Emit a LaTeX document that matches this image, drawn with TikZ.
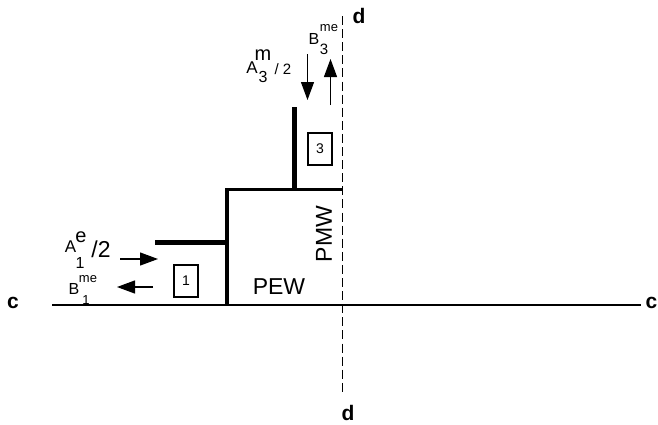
\documentclass[tikz,border=0pt]{standalone}
\usepackage{fontspec}
\setmainfont{Liberation Sans}
\usetikzlibrary{arrows.meta}

\begin{document}
\begin{tikzpicture}[x=1pt,y=-1pt,
    axis/.style = {line width=1.4pt},
    cut/.style = {line width=0.9pt, dash pattern=on 9pt off 4.1pt},
    wall/.style = {line width=3.6pt},
    thickwall/.style = {line width=5pt},
    load/.style = {line width=1.2pt, -{Triangle[length=18pt,width=13pt]}},
    sym/.style = {font=\fontsize{#1}{#1}\selectfont, inner sep=0pt},
    boldsym/.style = {font=\fontsize{#1}{#1}\selectfont\bfseries, inner sep=0pt},
    numbox/.style = {draw, line width=1.2pt, minimum width=24pt, minimum height=32pt, inner sep=0pt, font=\fontsize{14}{14}\selectfont}]
    \useasboundingbox (0,0) rectangle (658,424);
    % section lines
    \coordinate (cleft) at (52,305);
    \coordinate (cright) at (641,305);
    \coordinate (dtop) at (342.5,16);
    \coordinate (dbottom) at (342.5,392);
    \draw [axis] (cleft) -- (cright);
    \draw [cut] (dtop) -- (dbottom);
    \node [boldsym=21] (cl) at (13,303) {c};
    \node [boldsym=21] (cr) at (651.5,303) {c};
    \node [boldsym=21] (dt) at (359,16) {d};
    \node [boldsym=21] (db) at (348,413) {d};
    % walls
    \coordinate (corner) at (227,189.5);
    \coordinate (base) at (227,305);
    \coordinate (webtop) at (343,189.5);
    \coordinate (flangeleft) at (155,242.5);
    \coordinate (flangeright) at (227,242.5);
    \coordinate (stemtop) at (294.5,107);
    \coordinate (stembottom) at (294.5,189.5);
    \draw [wall] (base) -- (corner) -- (webtop);
    \draw [thickwall] (flangeleft) -- (flangeright);
    \draw [thickwall] (stemtop) -- (stembottom);
    \node [sym=23] (pew) at (279,287) {PEW};
    \node [sym=23,rotate=90] (pmw) at (324,234) {PMW};
    % numbered boxes
    \node [numbox] (box1) at (186,281) {1};
    \node [numbox] (box3) at (320,149) {3};
    % loads on the left
    \coordinate (a1start) at (120,259);
    \coordinate (a1end) at (158,259);
    \coordinate (b1start) at (153,287);
    \coordinate (b1end) at (117,287);
    \draw [load] (a1start) -- (a1end);
    \draw [load] (b1start) -- (b1end);
    \node [sym=17] (a1) at (70.5,247) {A};
    \node [sym=20] (a1e) at (81,237) {e};
    \node [sym=16] (a1i) at (80,263) {1};
    \node [sym=23] (a1h) at (101,249) {/2};
    \node [sym=16] (b1) at (74,289) {B};
    \node [sym=13] (b1me) at (88,279) {me};
    \node [sym=13] (b1i) at (86,300) {1};
    % loads on top
    \coordinate (a3start) at (307.5,54);
    \coordinate (a3end) at (307.5,100);
    \coordinate (b3start) at (330.5,105);
    \coordinate (b3end) at (330.5,59);
    \draw [load] (a3start) -- (a3end);
    \draw [load] (b3start) -- (b3end);
    \node [sym=17] (a3) at (252,68) {A};
    \node [sym=20] (a3m) at (263,55) {m};
    \node [sym=16] (a3i) at (263,77) {3};
    \node [sym=15] (a3h) at (283,69) {/ 2};
    \node [sym=16] (b3) at (314,39) {B};
    \node [sym=13] (b3me) at (329,28) {me};
    \node [sym=15] (b3i) at (324,49) {3};
\end{tikzpicture}
\end{document}
